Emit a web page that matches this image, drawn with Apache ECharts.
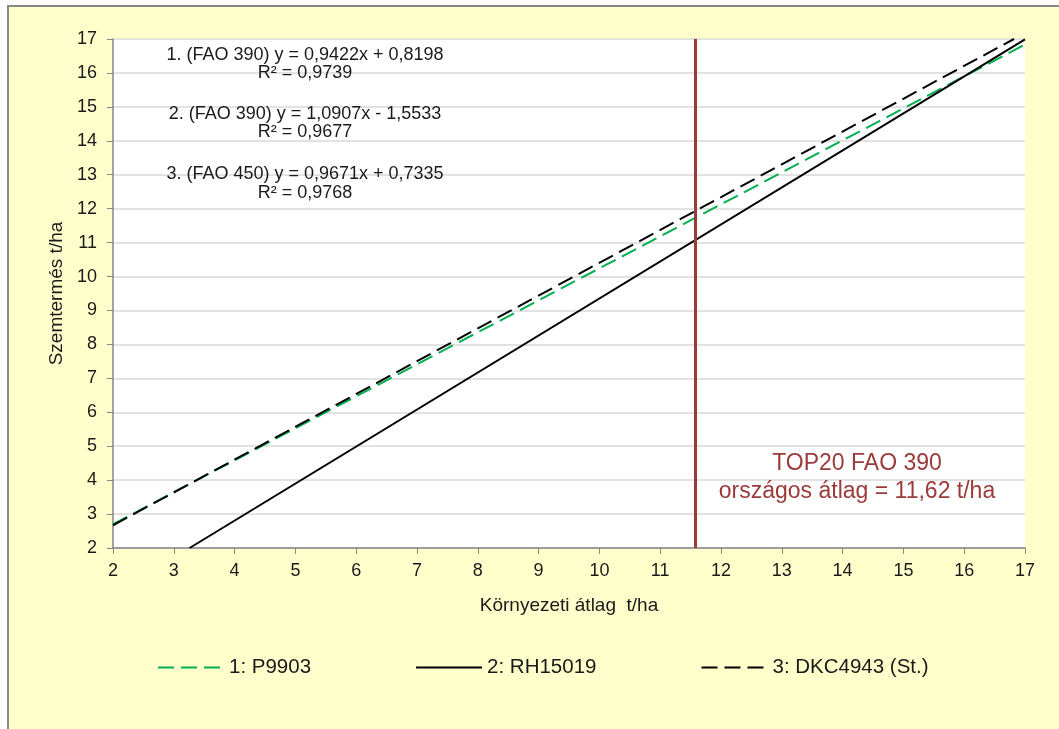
<!DOCTYPE html>
<html>
<head>
<meta charset="utf-8">
<title>Szemtermés - környezeti átlag</title>
<script src="https://cdn.jsdelivr.net/npm/echarts@6/dist/echarts.min.js"></script>
<style>
    html, body { margin: 0; padding: 0; background: #fff; }
    #frame {
        position: absolute; left: 7px; top: 5px; width: 1060px; height: 730px;
        background: #ffffcc; border-left: 2px solid #888; border-top: 2px solid #888;
    }
    #main { position: absolute; left: 0; top: 0; width: 1059px; height: 729px; }
</style>
</head>
<body>
<div id="frame"></div>
<div id="main"></div>
<script>
// sorozatok nevei
var names = ['1: P9903', '2: RH15019', '3: DKC4943 (St.)'];
// regressziós egyenesek végpontjai (x: környezeti átlag, y: szemtermés)
var p9903 = [[2, 2.70], [17, 16.84]];
var rh15019 = [[3.26, 2.00], [17, 16.99]];
var dkc4943 = [[2, 2.67], [16.82, 17.00]];
// országos átlag
var atlag = 11.58;
var atlagText = ['TOP20 FAO 390', 'országos átlag = 11,62 t/ha'];
// egyenletek
var eqText = [
    '1. (FAO 390) y = 0,9422x + 0,8198', 'R² = 0,9739',
    '2. (FAO 390) y = 1,0907x - 1,5533', 'R² = 0,9677',
    '3. (FAO 450) y = 0,9671x + 0,7335', 'R² = 0,9768'
];
var eqY = [55, 73, 114, 132, 174, 193];

var font = 'Liberation Sans, Arial, sans-serif';
var myChart = echarts.init(document.getElementById('main'));

var graphics = [];
for (var i = 0; i < eqText.length; i++) {
    graphics.push({
        type: 'text', z: 10,
        style: {
            x: 305, y: eqY[i], text: eqText[i], fill: '#1a1a1a',
            font: '18px ' + font, textAlign: 'center', textVerticalAlign: 'middle'
        }
    });
}
graphics.push({
    type: 'text', z: 10,
    style: {
        x: 857, y: 464, text: atlagText[0], fill: '#9b3a3a',
        font: '23px ' + font, textAlign: 'center', textVerticalAlign: 'middle'
    }
});
graphics.push({
    type: 'text', z: 10,
    style: {
        x: 857, y: 492, text: atlagText[1], fill: '#9b3a3a',
        font: '23px ' + font, textAlign: 'center', textVerticalAlign: 'middle'
    }
});

function lineSeries(name, data, color, dashed) {
    return {
        name: name,
        type: 'line',
        data: data,
        symbol: 'none',
        clip: true,
        lineStyle: { color: color, width: 2, type: dashed ? [16, 7] : 'solid' },
        itemStyle: { color: color }
    };
}

var series = [
    lineSeries(names[0], p9903, '#00b050', true),
    lineSeries(names[1], rh15019, '#000', false),
    lineSeries(names[2], dkc4943, '#000', true)
];
series[0].markLine = {
    silent: true,
    symbol: 'none',
    label: { show: false },
    lineStyle: { color: '#9b3a3a', width: 3, type: 'solid' },
    data: [{ xAxis: atlag }]
};

option = {
    backgroundColor: 'transparent',
    animation: false,
    textStyle: { fontFamily: font },
    grid: {
        left: 113, right: 34, top: 39, bottom: 181,
        show: true, backgroundColor: '#fff', borderWidth: 0
    },
    legend: {
        left: 152, top: 652,
        itemWidth: 66, itemHeight: 14, itemGap: 104,
        itemStyle: { opacity: 0 },
        textStyle: { color: '#1a1a1a', fontSize: 20.5, fontFamily: font },
        data: names
    },
    xAxis: {
        type: 'value', min: 2, max: 17, interval: 1,
        name: 'Környezeti átlag  t/ha', nameLocation: 'middle', nameGap: 48,
        nameTextStyle: { color: '#1a1a1a', fontSize: 19 },
        axisLine: { lineStyle: { color: '#868686', width: 1.5 } },
        axisTick: { show: true, length: 6, lineStyle: { color: '#868686' } },
        axisLabel: { color: '#1a1a1a', fontSize: 18, margin: 14 },
        splitLine: { show: false }
    },
    yAxis: {
        type: 'value', min: 2, max: 17, interval: 1,
        name: 'Szemtermés t/ha', nameLocation: 'middle', nameGap: 47,
        nameTextStyle: { color: '#1a1a1a', fontSize: 19 },
        axisLine: { show: true, lineStyle: { color: '#868686', width: 1.5 } },
        axisTick: { show: true, length: 6, lineStyle: { color: '#868686' } },
        axisLabel: { color: '#1a1a1a', fontSize: 18, margin: 16 },
        splitLine: { show: true, lineStyle: { color: '#d9d9d9', width: 1.5 } }
    },
    graphic: graphics,
    series: series
};
myChart.setOption(option);
window.addEventListener('resize', function () {
    myChart.resize();
});
</script>
</body>
</html>
